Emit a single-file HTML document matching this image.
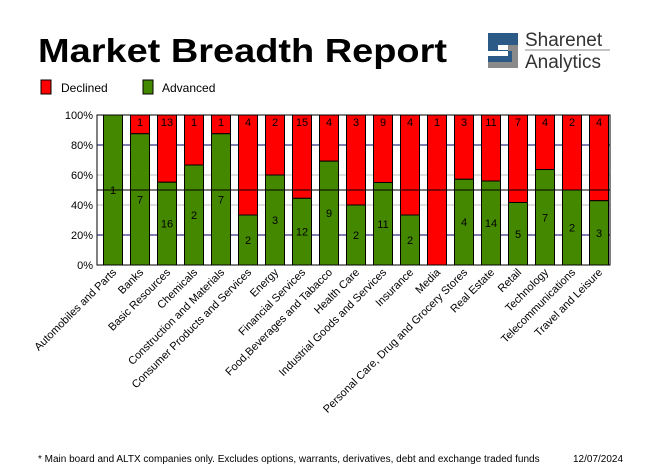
<!DOCTYPE html>
<html><head><meta charset="utf-8"><style>
html,body{margin:0;padding:0;background:#fff;width:655px;height:470px;overflow:hidden}
svg{display:block;font-family:"Liberation Sans",sans-serif}
</style></head><body>
<svg id="s" width="655" height="470" viewBox="0 0 655 470" xmlns="http://www.w3.org/2000/svg">
<text x="38" y="62" font-size="33" font-weight="bold" textLength="409" lengthAdjust="spacingAndGlyphs">Market Breadth Report</text>
<rect x="41" y="80" width="10" height="14" fill="#ff0000" stroke="#000"/>
<text x="61" y="92" font-size="12">Declined</text>
<rect x="143" y="80" width="10" height="14" fill="#448800" stroke="#000"/>
<text x="162" y="92" font-size="12">Advanced</text>
<g>
<path d="M488 33h30v12h-20v5h20v18h-30v-12h20v-5h-20z" fill="#2c5a86"/>
<path d="M508 45h10v23h-30v-6h24v-11h-4z" fill="#8a8a8a"/>
<text x="525" y="46" font-size="19" fill="#333">Sharenet</text>
<line x1="525" y1="50" x2="610" y2="50" stroke="#888" stroke-width="1"/>
<text x="525" y="68" font-size="19" fill="#333">Analytics</text>
</g>
<g id="chart"></g>
<text x="38" y="462" font-size="10">* Main board and ALTX companies only. Excludes options, warrants, derivatives, debt and exchange traded funds</text>
<text x="573" y="462" font-size="10">12/07/2024</text>
</svg>
<script>
var d=[["Automobiles and Parts",0,1],["Banks",1,7],["Basic Resources",13,16],["Chemicals",1,2],["Construction and Materials",1,7],["Consumer Products and Services",4,2],["Energy",2,3],["Financial Services",15,12],["Food,Beverages and Tabacco",4,9],["Health Care",3,2],["Industrial Goods and Services",9,11],["Insurance",4,2],["Media",1,0],["Personal Care, Drug and Grocery Stores",3,4],["Real Estate",11,14],["Retail",7,5],["Technology",4,7],["Telecommunications",2,2],["Travel and Leisure",4,3]];
var h='',L=97,R=610,T=115,B=265;
[[80,'#000066'],[60,'#bbbbbb'],[40,'#bbbbbb'],[20,'#000066']].forEach(function(g){var y=B-g[0]*1.5;h+='<line x1="'+L+'" y1="'+y+'" x2="'+R+'" y2="'+y+'" stroke="'+g[1]+'"/>';});
for(var p=0;p<=100;p+=20){h+='<text x="93" y="'+(B-p*1.5+4)+'" font-size="11" text-anchor="end">'+p+'%</text>';}
d.forEach(function(r,i){var x=103.5+27*i,w=19,t=r[1]+r[2],a=r[2]/t,gy=B-a*150;
if(r[1])h+='<rect x="'+x+'" y="'+T+'" width="'+w+'" height="'+(gy-T)+'" fill="#ff0000" stroke="#000"/>';
if(r[2])h+='<rect x="'+x+'" y="'+gy+'" width="'+w+'" height="'+(B-gy)+'" fill="#448800" stroke="#000"/>';
var cx=x+w/2;
if(r[1])h+='<text x="'+cx+'" y="'+(T+11)+'" font-size="11" text-anchor="middle">'+r[1]+'</text>';
if(r[2])h+='<text x="'+cx+'" y="'+((gy+B)/2+4)+'" font-size="11" text-anchor="middle">'+r[2]+'</text>';
h+='<text transform="translate('+(cx+4)+',273) rotate(-45)" font-size="11" text-anchor="end">'+r[0]+'</text>';
});
h+='<line x1="'+L+'" y1="190" x2="'+R+'" y2="190" stroke="#000"/>';
h+='<rect x="'+L+'" y="'+T+'" width="'+(R-L)+'" height="'+(B-T)+'" fill="none" stroke="#000"/>';
document.getElementById('chart').innerHTML=h;
</script>
</body></html>
